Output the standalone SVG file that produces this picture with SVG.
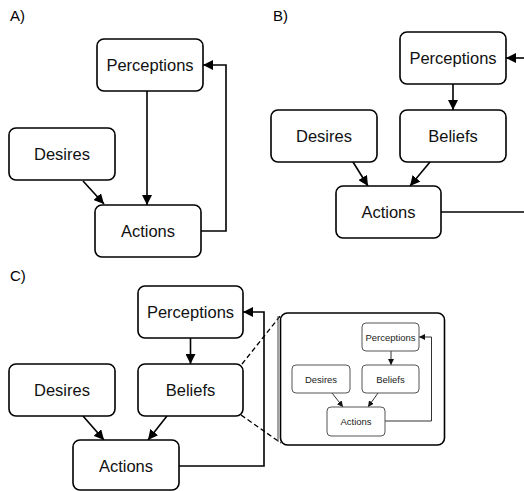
<svg xmlns="http://www.w3.org/2000/svg" width="524" height="491" viewBox="0 0 524 491">
<defs>
<marker id="ah" markerUnits="userSpaceOnUse" markerWidth="11" markerHeight="10" refX="10" refY="5" orient="auto"><path d="M0,0 L10,5 L0,10 z" fill="#000"/></marker>
<marker id="ahs" markerUnits="userSpaceOnUse" markerWidth="7" markerHeight="7" refX="6" refY="3" orient="auto"><path d="M0,0 L6,3 L0,6 z" fill="#111"/></marker>
</defs>
<style>
.box{fill:#fff;stroke:#000;stroke-width:1.6}
.sbox{fill:#fff;stroke:#555;stroke-width:1}
.t{font-family:"Liberation Sans",Arial,sans-serif;font-size:16.5px;fill:#111;text-anchor:middle}
.st{font-family:"Liberation Sans",Arial,sans-serif;font-size:9.5px;fill:#222;text-anchor:middle}
.lbl{font-family:"Liberation Sans",Arial,sans-serif;font-size:15px;fill:#000}
.c{fill:none;stroke:#000;stroke-width:1.6}
.ca{fill:none;stroke:#000;stroke-width:1.6;marker-end:url(#ah)}
.sc{fill:none;stroke:#333;stroke-width:1}
.sca{fill:none;stroke:#333;stroke-width:1;marker-end:url(#ahs)}
.d{fill:none;stroke:#000;stroke-width:1.3;stroke-dasharray:5,3}
</style>
<text class="lbl" x="10" y="21">A)</text>
<text class="lbl" x="273" y="21">B)</text>
<text class="lbl" x="10" y="281">C)</text>

<g id="connectors">
<!-- A -->
<path class="ca" d="M147,91 L147,205"/>
<path class="ca" d="M83,181 L104,204"/>
<path class="ca" d="M201,231 L226,231 L226,65 L203,65"/>
<!-- B -->
<path class="ca" d="M524,58 L506,58"/>
<path class="ca" d="M453,84 L453,110"/>
<path class="ca" d="M353,162 L368,186"/>
<path class="ca" d="M430,162 L410,186"/>
<path class="c" d="M441,212 L524,212"/>
<!-- C -->
<path class="ca" d="M190.5,338 L190.5,364"/>
<path class="ca" d="M83,416 L104,440"/>
<path class="ca" d="M167,416 L148,440"/>
<path class="ca" d="M179,466 L264,466 L264,312 L243,312"/>
<path class="d" d="M242,364 L281,315"/>
<path class="d" d="M241,415 L281,443"/>
<!-- inset -->
<path class="sca" d="M391,351 L391,365"/>
<path class="sca" d="M332,393 L343,407"/>
<path class="sca" d="M378,393 L368,407"/>
<path class="sca" d="M385,421 L431.5,421 L431.5,337 L419,337"/>
</g>

<g id="a-perceptions"><rect class="box" x="97" y="39" width="106" height="52" rx="7"/><text class="t" x="150" y="71">Perceptions</text></g>
<g id="a-desires"><rect class="box" x="9" y="128" width="106" height="52" rx="7"/><text class="t" x="62" y="160">Desires</text></g>
<g id="a-actions"><rect class="box" x="95" y="205" width="106" height="52" rx="7"/><text class="t" x="148" y="237">Actions</text></g>

<g id="b-perceptions"><rect class="box" x="400" y="32" width="106" height="52" rx="7"/><text class="t" x="453" y="64">Perceptions</text></g>
<g id="b-desires"><rect class="box" x="271" y="110" width="106" height="52" rx="7"/><text class="t" x="324" y="142">Desires</text></g>
<g id="b-beliefs"><rect class="box" x="400" y="110" width="106" height="52" rx="7"/><text class="t" x="453" y="142">Beliefs</text></g>
<g id="b-actions"><rect class="box" x="336" y="186" width="105" height="52" rx="7"/><text class="t" x="388.5" y="218">Actions</text></g>

<g id="c-perceptions"><rect class="box" x="138" y="286" width="105" height="52" rx="7"/><text class="t" x="190.5" y="318">Perceptions</text></g>
<g id="c-desires"><rect class="box" x="9" y="364" width="106" height="52" rx="7"/><text class="t" x="62" y="396">Desires</text></g>
<g id="c-beliefs"><rect class="box" x="138" y="364" width="105" height="52" rx="7"/><text class="t" x="190.5" y="396">Beliefs</text></g>
<g id="c-actions"><rect class="box" x="73" y="440" width="106" height="50" rx="7"/><text class="t" x="126" y="472">Actions</text></g>

<g id="inset">
<line x1="278" y1="316" x2="278" y2="442" stroke="#444" stroke-width="1"/>
<rect x="280.5" y="313" width="164" height="132" rx="7" fill="none" stroke="#000" stroke-width="1.6"/>
</g>
<g id="i-perceptions"><rect class="sbox" x="362" y="323" width="57" height="28" rx="4"/><text class="st" x="390.5" y="340.5">Perceptions</text></g>
<g id="i-desires"><rect class="sbox" x="292" y="365" width="58" height="28" rx="4"/><text class="st" x="321" y="382.5">Desires</text></g>
<g id="i-beliefs"><rect class="sbox" x="362" y="365" width="57" height="28" rx="4"/><text class="st" x="390.5" y="382.5">Beliefs</text></g>
<g id="i-actions"><rect class="sbox" x="327" y="407" width="58" height="29" rx="4"/><text class="st" x="356" y="424.5">Actions</text></g>
</svg>
